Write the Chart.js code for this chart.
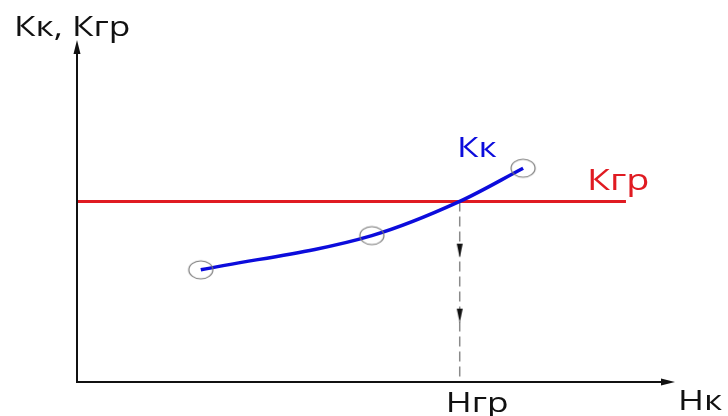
<!DOCTYPE html>
<html>
<head>
<meta charset="utf-8">
<style>
  html, body { margin: 0; padding: 0; background: #fff; }
  #chart { display: block; }
</style>
<script src="https://cdn.jsdelivr.net/npm/chart.js@4"></script>
</head>
<body>
<canvas id="chart" width="728" height="416"></canvas>
<script>
// values (arbitrary units, axes 0..10)
const kkX = [2.07, 4.93, 6.40, 7.46];
const kkY = [3.28, 4.28, 5.28, 6.25];
const kkMarked = [true, true, false, true];
const kgrX = [0, 9.18];
const kgrY = [5.28, 5.28];
const hgrX = 6.40;
const dropArrowY = [3.84, 1.94];

const axisTitleY = 'Кк, Кгр';
const axisTitleX = 'Нк';
const labelKk = 'Кк';
const labelKgr = 'Кгр';
const labelHgr = 'Нгр';

const FONT = '"Open Sans", "DejaVu Sans", sans-serif';
const STRETCH = 1.26; // the source lettering is a bit wide

// ellipse marker used on the Kk curve
function ellipseMarker() {
    const c = document.createElement('canvas');
    c.width = 28; c.height = 22;
    const g = c.getContext('2d');
    g.strokeStyle = '#777';
    g.lineWidth = 1.2;
    g.beginPath();
    g.ellipse(14, 11, 12, 9, 0, 0, Math.PI * 2);
    g.stroke();
    return c;
}

// narrow downward arrow used on the dashed drop line
function downArrow() {
    const c = document.createElement('canvas');
    c.width = 8; c.height = 16;
    const g = c.getContext('2d');
    g.fillStyle = '#111';
    g.beginPath();
    g.moveTo(1, 1);
    g.lineTo(7, 1);
    g.lineTo(4, 15);
    g.closePath();
    g.fill();
    return c;
}

const ellipse = ellipseMarker();
const arrow = downArrow();

function wideText(ctx, text, x, y) {
    ctx.save();
    ctx.translate(x, y);
    ctx.scale(STRETCH, 1);
    ctx.fillText(text, 0, 0);
    ctx.restore();
}

const decorations = {
    id: 'decorations',
    afterDraw(chart) {
        const { ctx, chartArea: a, scales: { x, y } } = chart;
        ctx.save();
        // axes with arrow heads
        ctx.strokeStyle = '#111';
        ctx.fillStyle = '#111';
        ctx.lineWidth = 2;
        ctx.beginPath();
        ctx.moveTo(a.left, a.top + 4);
        ctx.lineTo(a.left, a.bottom);
        ctx.lineTo(a.right - 4, a.bottom);
        ctx.stroke();
        ctx.beginPath();
        ctx.moveTo(a.left, a.top);
        ctx.lineTo(a.left - 3.5, a.top + 14);
        ctx.lineTo(a.left + 3.5, a.top + 14);
        ctx.closePath();
        ctx.fill();
        ctx.beginPath();
        ctx.moveTo(a.right, a.bottom);
        ctx.lineTo(a.right - 14, a.bottom - 3.5);
        ctx.lineTo(a.right - 14, a.bottom + 3.5);
        ctx.closePath();
        ctx.fill();

        // texts
        ctx.textBaseline = 'alphabetic';
        ctx.textAlign = 'left';
        ctx.font = '28px ' + FONT;
        ctx.fillStyle = '#111';
        wideText(ctx, axisTitleY, 14, 36);
        wideText(ctx, axisTitleX, a.right + 3, 410);
        wideText(ctx, labelHgr, x.getPixelForValue(hgrX) - 14, 412);

        ctx.fillStyle = '#0c0cdc';
        wideText(ctx, labelKk, x.getPixelForValue(kkX[3]) - 66, y.getPixelForValue(kkY[3]) - 11);
        ctx.font = '30px ' + FONT;
        ctx.fillStyle = '#e01b22';
        wideText(ctx, labelKgr, x.getPixelForValue(kgrX[1]) - 39, y.getPixelForValue(kgrY[1]) - 11);
        ctx.restore();
    }
};

new Chart(document.getElementById('chart'), {
    type: 'scatter',
    data: {
        datasets: [
            {
                label: labelHgr,
                data: [{ x: hgrX, y: kgrY[0] }, { x: hgrX, y: 0 }],
                showLine: true,
                borderColor: '#8a8a8a',
                borderWidth: 1.5,
                borderDash: [10, 5],
                pointRadius: 0,
                order: 3
            },
            {
                label: 'arrows',
                data: dropArrowY.map(v => ({ x: hgrX, y: v })),
                pointStyle: arrow,
                pointRadius: 8,
                order: 0
            },
            {
                label: labelKgr,
                data: kgrX.map((v, i) => ({ x: v, y: kgrY[i] })),
                showLine: true,
                borderColor: '#e01b22',
                borderWidth: 3,
                pointRadius: 0,
                order: 2
            },
            {
                label: labelKk,
                data: kkX.map((v, i) => ({ x: v, y: kkY[i] })),
                showLine: true,
                borderColor: '#0c0cdc',
                borderWidth: 3.5,
                cubicInterpolationMode: 'monotone',
                pointStyle: ellipse,
                pointRadius: kkMarked.map(m => m ? 12 : 0),
                order: 1
            }
        ]
    },
    options: {
        responsive: false,
        animation: false,
        layout: { padding: { left: 77, right: 53, top: 40, bottom: 34 } },
        plugins: { legend: { display: false }, tooltip: { enabled: false } },
        scales: {
            x: { type: 'linear', min: 0, max: 10, display: false },
            y: { type: 'linear', min: 0, max: 10, display: false }
        }
    },
    plugins: [decorations]
});
</script>
</body>
</html>
